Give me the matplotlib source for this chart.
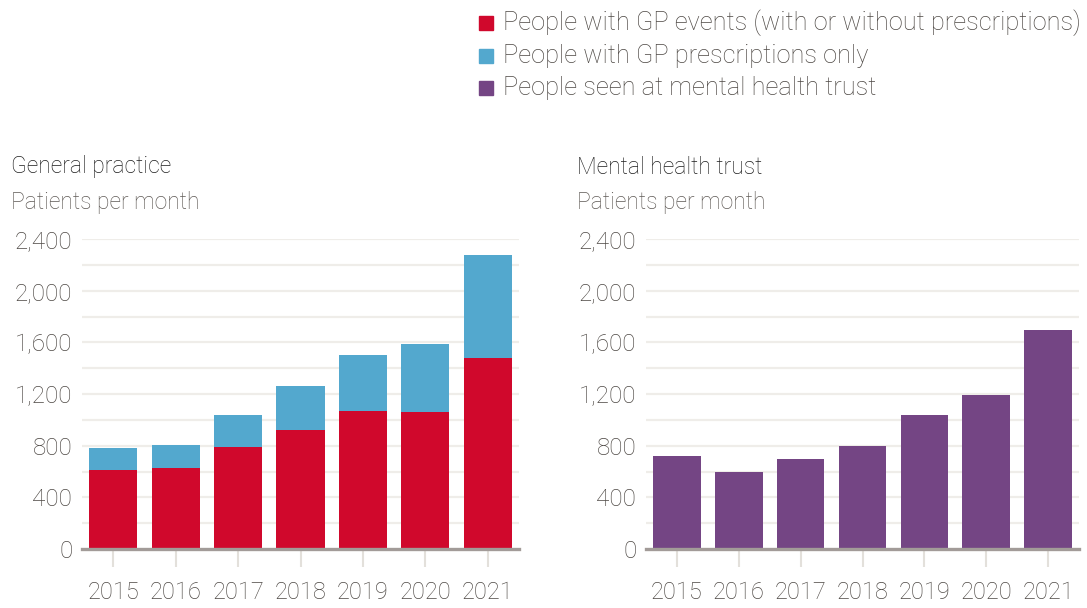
import numpy as np
import matplotlib; matplotlib.use("Agg"); import matplotlib.pyplot as plt
from matplotlib.patches import Rectangle

plt.rcParams["font.family"] = ["Roboto", "DejaVu Sans"]

years = ["2015", "2016", "2017", "2018", "2019", "2020", "2021"]
gp_events = [612, 627, 790, 921, 1069, 1061, 1479]
gp_total = [782, 805, 1038, 1262, 1502, 1587, 2276]
gp_presc_only = [t - e for t, e in zip(gp_total, gp_events)]
mh_trust = [720, 596, 697, 798, 1038, 1192, 1696]
yticks = [0, 400, 800, 1200, 1600, 2000, 2400]

RED, BLUE, PURPLE = "#d0082c", "#53a8ce", "#744584"
GRID, BASE, TICKC, LABC = "#efede9", "#a29b98", "#e3e0db", "#4d4844"
W, H = 1087, 608

fig = plt.figure(figsize=(W/100, H/100), dpi=100)

def px_axes(x0, x1, ytop, ybot):
    return fig.add_axes([x0/W, (H-ybot)/H, (x1-x0)/W, (ybot-ytop)/H])

def style(ax):
    x = np.arange(len(years))
    ax.set_xlim(-0.5, len(years)-0.5); ax.set_ylim(0, 2400)
    for v in range(200, 2401, 200):
        ax.axhline(v, color=GRID, lw=1.6, zorder=0)
    ax.axhline(0, color=BASE, lw=2.4, zorder=3, clip_on=False)
    for s in ax.spines.values(): s.set_visible(False)
    ax.set_yticks(yticks); ax.set_yticklabels([f"{v:,}" for v in yticks])
    ax.set_xticks(x); ax.set_xticklabels(years)
    ax.tick_params(axis="y", length=0, pad=7, labelsize=17.5, labelcolor=LABC)
    ax.tick_params(axis="x", length=13, width=1.5, color=TICKC, pad=10, labelsize=17, labelcolor=LABC)
    for t in ax.get_xticklabels() + ax.get_yticklabels(): t.set_fontweight("light")
    return x

ax1 = px_axes(82, 519, 239, 549)
x = style(ax1)
ax1.bar(x, gp_events, width=0.77, color=RED, zorder=2)
ax1.bar(x, gp_presc_only, bottom=gp_events, width=0.77, color=BLUE, zorder=2)

ax2 = px_axes(646, 1079, 239, 549)
x = style(ax2)
ax2.bar(x, mh_trust, width=0.77, color=PURPLE, zorder=2)

# panel titles
for xp, name in [(11, "General practice"), (577, "Mental health trust")]:
    fig.text(xp/W, 1-167/H, name, fontsize=16.5, color="#1e1e1e", va="center", fontweight="light")
    fig.text(xp/W, 1-202/H, "Patients per month", fontsize=16.5, color="#5f5a56", va="center", fontweight="light")

# legend
legend = [(RED, "People with GP events (with or without prescriptions)"),
          (BLUE, "People with GP prescriptions only"),
          (PURPLE, "People seen at mental health trust")]
for i, (c, lab) in enumerate(legend):
    yc = 23 + i*32.5
    fig.patches.append(Rectangle((479/W, 1-(yc+7)/H), 14/W, 14/H, transform=fig.transFigure, color=c))
    fig.text(503/W, 1-yc/H, lab, fontsize=18.3, color="#4d4844", va="center", fontweight="light")

fig.savefig("out.png", dpi=100)
